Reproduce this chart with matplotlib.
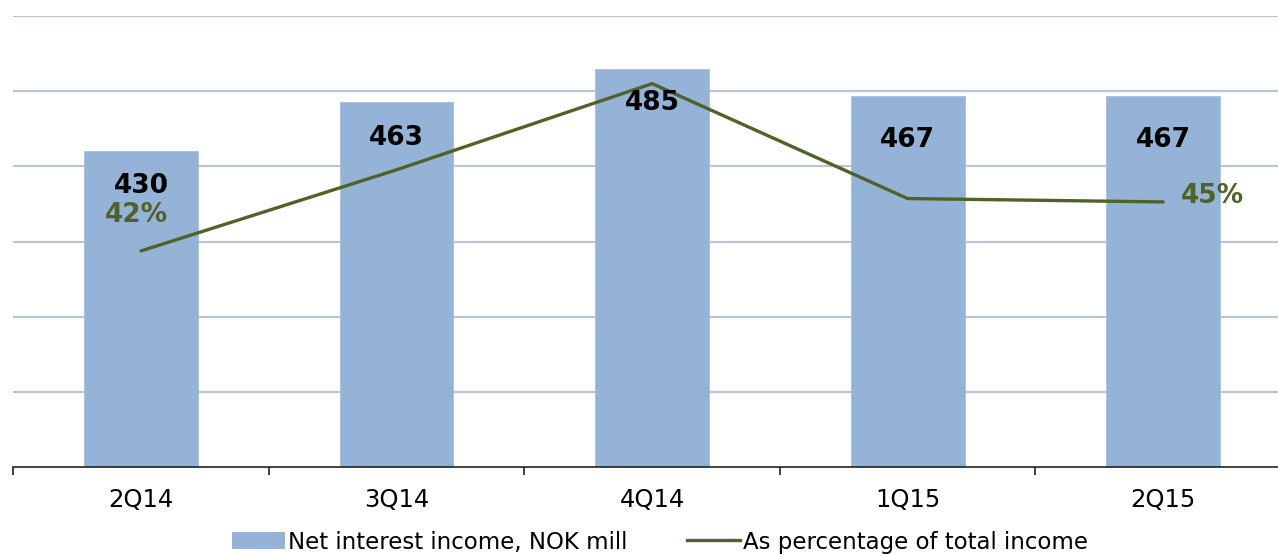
import matplotlib
matplotlib.use("Agg")
import matplotlib.pyplot as plt
from matplotlib.lines import Line2D
from matplotlib.patches import Patch

# --- data ---
quarters = ["2Q14", "3Q14", "4Q14", "1Q15", "2Q15"]
nii = [430, 463, 485, 467, 467]            # Net interest income, NOK mill
pct_total = [42.0, 46.8, 51.9, 45.1, 44.9]  # as % of total income
pct_labels = {0: "42%", 4: "45%"}

BAR_COLOR = "#95B3D7"
LINE_COLOR = "#4F6228"
GRID_COLOR = "#BCC6D2"

W, H = 1278, 554
fig = plt.figure(figsize=(W / 100, H / 100), dpi=100)

# axes box in pixels (left edge ~13, right edge runs past the figure)
x0, x1 = 13.2, 1291.0
y_top, y_bot = 16.0, 467.3
ax = fig.add_axes([x0 / W, 1 - y_bot / H, (x1 - x0) / W, (y_bot - y_top) / H])

x = list(range(len(quarters)))
ax.bar(x, nii, width=0.445, color=BAR_COLOR, edgecolor="#A9C0DD",
       linewidth=0.6, zorder=2)
ax.set_xlim(-0.5, len(quarters) - 0.5)
ax.set_ylim(220, 520)
ax.set_yticks(range(270, 521, 50))
ax.yaxis.grid(True, color=GRID_COLOR, linewidth=1.6, zorder=0)
ax.set_axisbelow(True)

for s in ["left", "right", "top"]:
    ax.spines[s].set_visible(False)
ax.spines["bottom"].set_color("#222222")
ax.spines["bottom"].set_linewidth(1.2)

ax.set_xticks(x)
ax.set_xticklabels(quarters, fontsize=17.5)
ax.set_xticks([i - 0.5 for i in range(len(quarters) + 1)], minor=True)
ax.tick_params(axis="x", which="major", length=0, pad=15)
ax.tick_params(axis="x", which="minor", length=6, width=1.2, color="#222222")

# secondary axis for the percentage line (hidden)
ax2 = ax.twinx()
ax2.set_ylim(29.2, 55.9)
ax2.plot(x, pct_total, color=LINE_COLOR, linewidth=2.4, zorder=3,
         solid_capstyle="round")
ax2.axis("off")
ax.tick_params(axis="y", which="both", left=False, right=False,
               labelleft=False, labelright=False)

# bar value labels (offset below bar top, in pixels)
label_drop = [35, 36.5, 34, 44.5, 44.5]
for i, (v, d) in enumerate(zip(nii, label_drop)):
    ax2.annotate(str(v), xy=(i, v), xycoords=ax.transData, xytext=(0, -d),
                 textcoords="offset pixels", ha="center", va="center",
                 fontsize=19, fontweight="bold", color="black", zorder=5,
                 annotation_clip=False)

# percentage labels
ax2.annotate(pct_labels[0], xy=(0, pct_total[0]), xytext=(-5, 36),
             textcoords="offset pixels", ha="center", va="center",
             fontsize=19, fontweight="bold", color=LINE_COLOR)
ax2.annotate(pct_labels[4], xy=(4, pct_total[4]), xytext=(49, 6),
             textcoords="offset pixels", ha="center", va="center",
             fontsize=19, fontweight="bold", color=LINE_COLOR)

handles = [
    Patch(facecolor=BAR_COLOR, edgecolor="none", label="Net interest income, NOK mill"),
    Line2D([0], [0], color=LINE_COLOR, linewidth=2.4, label="As percentage of total income"),
]
fig.legend(handles=handles, loc="center", bbox_to_anchor=(660 / W, 1 - 542 / H),
           ncol=2, frameon=False, fontsize=16.5, handlelength=2.3,
           handleheight=0.7, handletextpad=0.15, columnspacing=2.6,
           borderaxespad=0, borderpad=0)

fig.savefig("out.png", dpi=100)
